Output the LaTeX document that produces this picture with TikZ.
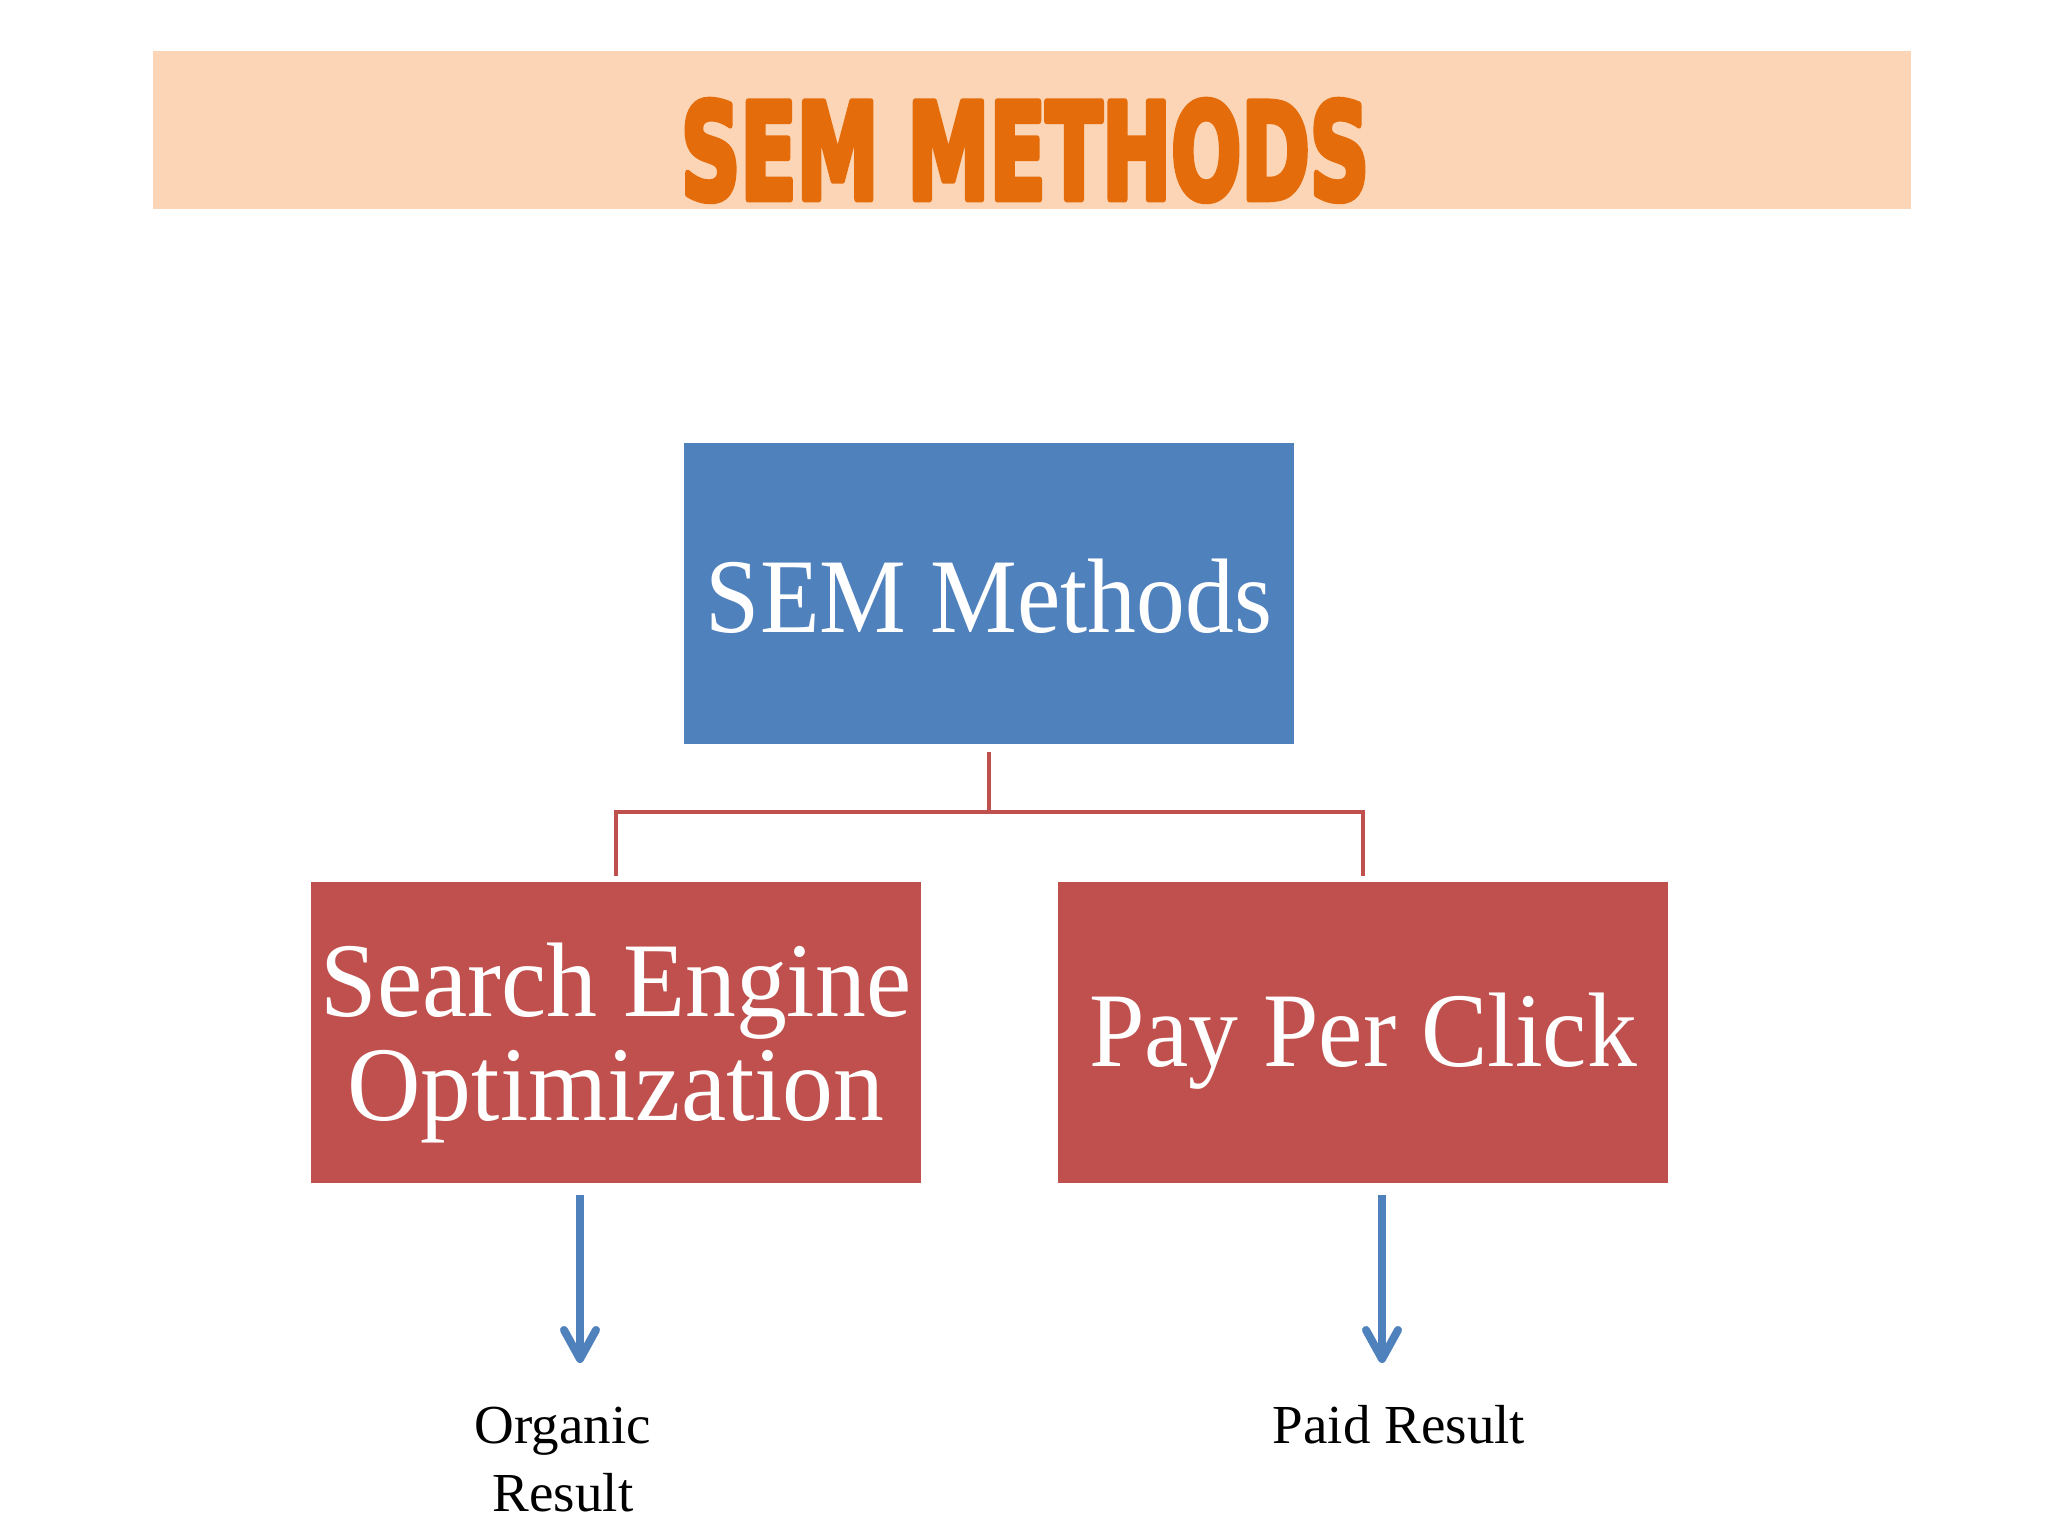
\documentclass[tikz,border=0pt]{standalone}
\usepackage{fontspec}
\setmainfont{Liberation Serif}
\newfontfamily\titlefont{DejaVu Sans Condensed}
\usetikzlibrary{calc}
\definecolor{bannerc}{HTML}{FBD5B5}
\definecolor{titlec}{HTML}{E46C0A}
\definecolor{bluec}{HTML}{4F81BD}
\definecolor{redc}{HTML}{C0504D}
\begin{document}
\begin{tikzpicture}[x=1pt,y=-1pt,
  boxbase/.style={minimum width=610pt,minimum height=301pt,inner sep=0pt,text=white,
    font=\fontsize{106pt}{104pt}\selectfont,align=center},
  bluebox/.style={boxbase,fill=bluec},
  redbox/.style={boxbase,fill=redc},
  link/.style={draw=redc,line width=4pt},
  arrowline/.style={draw=bluec,line width=8pt,line cap=round,line join=round},
  result/.style={font=\fontsize{55pt}{68pt}\selectfont,align=center,inner sep=0pt}]
\useasboundingbox (0,0) rectangle (2048,1536);
\fill[white] (0,0) rectangle (2048,1536);
% banner
\node[fill=bannerc,minimum width=1758pt,minimum height=158pt,inner sep=0pt] (banner) at (1032,130) {};
\node[inner sep=0pt,anchor=base,text=titlec] (title) at (1025,199)
  {\resizebox{688pt}{99pt}{\titlefont\bfseries\special{pdf:code 2 Tr 0.5 w 1 j}SEM METHODS\special{pdf:code 0 Tr}}};
% boxes
\node[bluebox] (sem) at (989,593.5) {\raisebox{-3pt}[\height][\depth]{\scalebox{0.92}[1]{SEM Methods}}};
\node[redbox] (seo) at (616,1032.5) {\raisebox{-15pt}[\height][\depth]{\scalebox{0.96}[1]{\begin{tabular}{@{}c@{}}Search Engine\\Optimization\end{tabular}}}};
\node[redbox] (ppc) at (1363,1032.5) {\raisebox{-9pt}[\height][\depth]{\scalebox{0.94}[1]{Pay Per Click}}};
% tree connector
\coordinate (semb) at ([yshift=-8pt]sem.south);
\coordinate (seot) at ([yshift=8pt]seo.north);
\coordinate (ppct) at ([yshift=8pt]ppc.north);
\coordinate (mid) at ($(semb)+(0,60)$);
\draw[link] (semb) -- (mid);
\draw[link,line cap=rect] (seot) -- (seot |- mid) -- (ppct |- mid) -- (ppct);
% labels
\node[result,anchor=base] (org) at (563,1511) {Organic\\Result};
\node[result,anchor=base] (paid) at (1399,1443) {Paid Result};
% arrows
\coordinate (a1s) at (580,1195);
\coordinate (a1e) at (580,1359);
\coordinate (a2s) at (1382,1195);
\coordinate (a2e) at (1382,1359);
\draw[arrowline,line cap=butt] (a1s) -- (a1e);
\draw[arrowline] ($(a1e)+(-16,-29)$) -- (a1e) -- ($(a1e)+(16,-29)$);
\draw[arrowline,line cap=butt] (a2s) -- (a2e);
\draw[arrowline] ($(a2e)+(-16,-29)$) -- (a2e) -- ($(a2e)+(16,-29)$);
\end{tikzpicture}
\end{document}
